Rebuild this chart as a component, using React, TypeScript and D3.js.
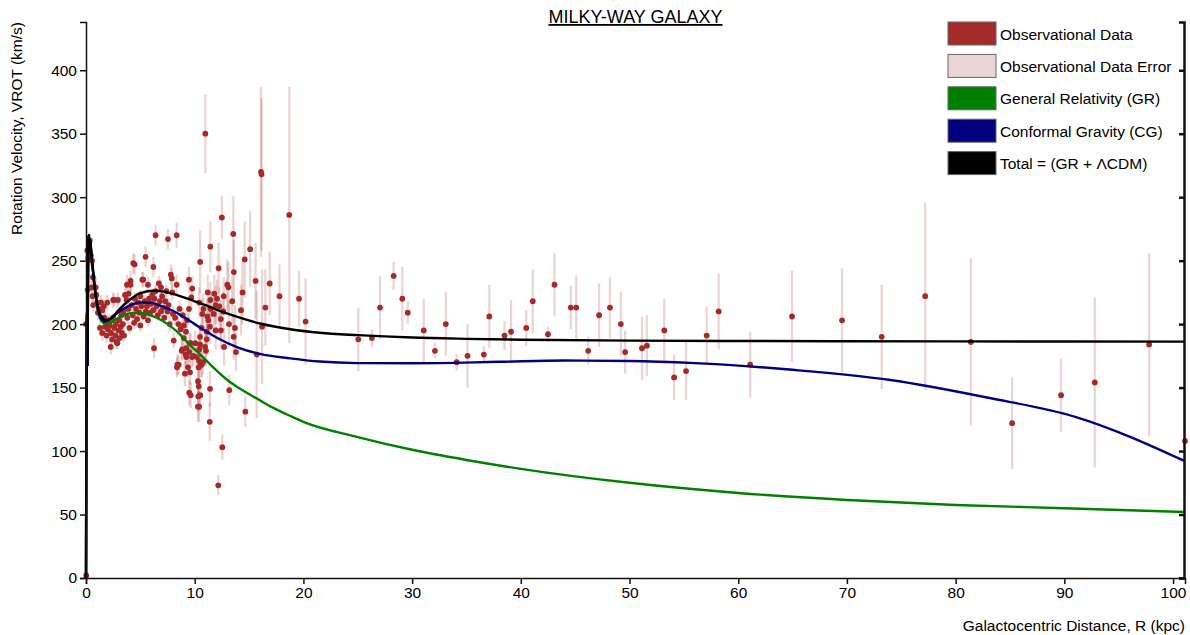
import React, { useCallback, useEffect, useRef } from "react";
import * as d3 from "d3";

// observations: [R (kpc), V (km/s), error (km/s)]
const innerData: number[][] = [
  [0.02, 2, 1], [0.0, 200, 8], [0.12, 258, 10], [0.15, 227, 8], [0.2, 252, 10],
  [0.28, 262, 8], [0.35, 266, 6], [0.45, 254, 8], [0.55, 250, 8], [0.52, 229, 8],
  [0.64, 237, 8], [0.6, 222, 6], [0.67, 215, 6], [0.89, 229, 8], [0.95, 223, 6],
  [1.04, 217, 8], [1.1, 209, 6], [1.2, 212, 6], [1.29, 197, 6], [1.38, 217, 6],
  [1.5, 211, 5], [1.5, 193, 6], [1.63, 214, 6], [1.7, 205, 5], [1.75, 198, 5],
  [1.85, 201, 5], [1.9, 191, 6], [1.96, 217, 6], [2.0, 196, 5], [2.1, 203, 5],
  [2.2, 199, 4], [2.27, 182, 6], [2.3, 193, 5], [2.4, 188, 5], [2.5, 219, 6],
  [2.5, 205, 4], [2.58, 219, 5], [2.6, 197, 5], [2.7, 191, 5], [2.75, 200, 4],
  [2.82, 186, 5], [2.88, 185, 5], [2.94, 219, 6], [3.0, 195, 5], [3.05, 203, 4],
  [3.1, 189, 5], [3.2, 198, 5], [3.25, 207, 4], [3.3, 193, 5], [3.4, 200, 4],
  [3.45, 210, 5], [3.5, 191, 5], [3.59, 223, 6], [3.74, 219, 6], [3.77, 231, 8],
  [3.8, 205, 5], [3.92, 224, 6], [3.9, 212, 5], [4.0, 197, 5], [4.1, 234, 8],
  [4.1, 231, 6], [4.2, 215, 5], [4.3, 207, 4], [4.35, 248, 8], [4.42, 201, 5],
  [4.47, 247, 8], [4.5, 220, 5], [4.6, 212, 4], [4.7, 204, 5], [4.8, 217, 5],
  [4.9, 209, 4], [5.0, 199, 5], [5.0, 222, 5], [5.1, 214, 4], [5.18, 235, 6],
  [5.27, 235, 6], [5.3, 206, 4], [5.4, 218, 5], [5.48, 253, 8], [5.5, 210, 4],
  [5.6, 214, 4], [5.7, 231, 6], [5.7, 203, 5], [5.8, 220, 4], [5.9, 209, 4],
  [6.0, 216, 4], [6.1, 223, 5], [6.2, 245, 8], [6.2, 211, 4], [6.26, 181, 8],
  [6.3, 220, 4], [6.4, 270, 8], [6.4, 226, 5], [6.5, 214, 4], [6.6, 207, 4],
  [6.7, 232, 6], [6.8, 218, 4], [6.9, 229, 6], [6.9, 210, 4], [7.0, 222, 5],
  [7.1, 213, 4], [7.2, 205, 5], [7.3, 218, 5], [7.4, 226, 5], [7.5, 210, 5],
  [7.54, 267, 8], [7.6, 215, 5], [7.7, 200, 6], [7.8, 239, 8], [7.9, 236, 8],
  [7.94, 225, 6], [8.0, 208, 6], [8.07, 187, 6],
];

const middleData: number[][] = [
  [8.2, 205, 6], [8.34, 270, 10], [8.34, 231, 8], [8.37, 166, 8], [8.4, 168, 8],
  [8.5, 200, 6], [8.53, 168, 8], [8.6, 212, 6], [8.7, 196, 6], [8.8, 179, 8],
  [8.86, 180, 8], [8.9, 207, 6], [8.99, 189, 8], [9.0, 199, 6], [9.1, 161, 10],
  [9.17, 176, 8], [9.2, 194, 6], [9.23, 181, 8], [9.23, 174, 8], [9.3, 203, 6],
  [9.38, 166, 8], [9.47, 235, 10], [9.47, 212, 8], [9.5, 178, 8], [9.5, 146, 10],
  [9.54, 185, 8], [9.57, 162, 10], [9.63, 185, 8], [9.63, 144, 10], [9.69, 221, 10],
  [9.75, 174, 8], [9.78, 228, 10], [9.87, 175, 8], [10.05, 185, 10], [10.18, 174, 10],
  [10.3, 155, 10], [10.3, 135, 12], [10.33, 143, 12], [10.37, 151, 10], [10.37, 166, 10],
  [10.4, 171, 10], [10.4, 135, 12], [10.42, 217, 12], [10.42, 180, 10], [10.49, 190, 10],
  [10.49, 184, 10], [10.5, 249, 25], [10.52, 144, 12], [10.55, 168, 10], [10.64, 197, 10],
  [10.64, 168, 10], [10.7, 208, 12], [10.76, 170, 10], [10.8, 212, 12], [10.95, 182, 12],
  [10.98, 350, 31], [11.04, 179, 12], [11.1, 194, 12], [11.1, 188, 12], [11.16, 206, 14],
  [11.2, 225, 14], [11.25, 203, 14], [11.38, 123, 15], [11.4, 198, 14], [11.41, 149, 14],
  [11.44, 261, 20], [11.44, 219, 14], [11.47, 212, 14], [11.74, 208, 15], [11.8, 224, 15],
  [11.93, 215, 15], [11.93, 195, 15], [12.05, 220, 15], [12.17, 73, 8], [12.2, 244, 20],
  [12.26, 214, 15], [12.4, 204, 15], [12.4, 195, 15], [12.5, 284, 17], [12.54, 103, 10],
  [12.63, 210, 15], [12.67, 222, 15], [12.7, 182, 15], [13.0, 231, 20], [13.1, 229, 20],
  [13.15, 200, 18], [13.18, 148, 12], [13.45, 218, 20], [13.55, 271, 30], [13.58, 190, 18],
  [13.6, 241, 25], [13.7, 197, 18], [13.8, 178, 15], [14.26, 211, 20], [14.4, 225, 25],
  [14.6, 251, 30], [14.66, 131, 12], [15.1, 259, 30], [15.6, 234, 30], [15.7, 176, 50],
  [16.1, 320, 67], [16.15, 318, 60], [16.2, 198, 45], [16.5, 213, 30], [16.9, 232, 25],
  [17.8, 222, 25], [18.7, 286, 101], [19.6, 220, 22], [20.2, 202, 34],
];

const outerData: number[][] = [
  [25.05, 188, 25], [26.3, 189, 7], [27.05, 213, 25], [28.3, 238, 11], [29.1, 220, 25],
  [29.6, 209, 9], [31.07, 195, 25], [32.1, 179, 6], [33.1, 200, 25], [34.1, 170, 6.5],
  [35.1, 175, 25], [36.6, 176, 6.5], [37.1, 206, 25], [38.5, 191, 11.5], [39.1, 194, 25],
  [40.5, 197, 14], [41.1, 218, 25], [42.5, 192, 6], [43.1, 231, 25], [44.6, 213, 17],
  [45.1, 213, 25], [46.2, 179, 11], [47.2, 207, 25], [48.2, 213, 24], [49.2, 200, 25],
  [49.6, 178, 17], [51.15, 181, 25], [51.6, 183, 24], [53.2, 195, 25], [54.1, 158, 18],
  [55.2, 163, 23], [57.1, 191, 23], [58.2, 210, 30], [61.1, 168, 26], [64.95, 206, 36],
  [69.55, 203, 41], [73.2, 190, 41], [77.2, 222, 74], [81.4, 186, 66], [85.2, 122, 36],
  [89.7, 144, 29], [92.8, 154, 67], [97.8, 184, 72], [101.1, 108, 42],
];

// model curves: [R (kpc), V (km/s)]
const coreCurve: number[][] = [
  [0, 0], [0.03, 100], [0.07, 195], [0.1, 210], [0.14, 168], [0.18, 230],
  [0.23, 268], [0.28, 270], [0.33, 258], [0.38, 266], [0.43, 262], [0.5, 255],
  [0.6, 246], [0.75, 233], [0.9, 222],
];

const grCurve: number[][] = [
  [1.1, 211], [1.35, 203.5], [1.75, 200.5], [2.2, 201], [3, 205], [4, 208.5],
  [4.7, 209], [5.5, 208], [6.5, 205], [7.5, 200], [8.65, 192], [9.5, 184],
  [10.5, 176], [11.7, 166], [13, 156], [14, 150], [16, 140], [17, 135],
  [18.8, 127.6], [20, 123], [25, 111], [30, 101], [35, 93], [40, 86], [50, 75],
  [60, 67], [70, 61.5], [80, 57.5], [90, 55], [101.1, 52],
];

const cgCurve: number[][] = [
  [1.1, 212], [1.35, 205], [1.75, 202], [2.2, 204], [3, 209.5], [4, 214.5],
  [5, 217], [6, 216.8], [7, 214], [8, 210.5], [9, 205.5], [10, 200], [11, 194.5],
  [12, 189.5], [14, 181.5], [16, 176.5], [18.8, 173], [21.5, 170.5], [25, 169.3],
  [30, 169.2], [38, 170.3], [44, 171.3], [50, 171], [56, 169.3], [65, 164],
  [74, 156], [83, 142], [91, 127], [101.1, 92],
];

const totalCurve: number[][] = [
  [1.1, 213], [1.35, 207], [1.9, 203], [2.5, 206], [3, 211], [4, 219],
  [5, 224.5], [6.3, 226.3], [7, 225.8], [8, 223.8], [9, 221], [10, 218],
  [11, 215], [12, 211.5], [14, 205.5], [16, 200.5], [18.8, 196], [21.5, 193.2],
  [25, 191.3], [30, 189.4], [35, 188.4], [40, 187.7], [50, 187], [60, 186.7],
  [80, 186.4], [101.1, 186.2],
];

const xTicks = [0, 10, 20, 30, 40, 50, 60, 70, 80, 90, 100];
const yTicks = [0, 50, 100, 150, 200, 250, 300, 350, 400];

const legendItems = [
  { label: "Observational Data", fill: "#a52a2a" },
  { label: "Observational Data Error", fill: "#ecd4d4" },
  { label: "General Relativity (GR)", fill: "#008000" },
  { label: "Conformal Gravity (CG)", fill: "#000080" },
  { label: "Total = (GR + \u039BCDM)", fill: "#000000" },
];

const FONT = "Arial, 'Liberation Sans', sans-serif";

function RotationCurve() {
  const ref = useRef<SVGSVGElement>(null);
  const width = 1190;
  const height = 635;
  const margin = { top: 22, right: 5, bottom: 57, left: 86 };

  const drawChart = useCallback(() => {
    const svg = d3.select(ref.current);
    svg.selectAll("*").remove();

    const x = d3
      .scaleLinear()
      .domain([0, 101.1])
      .range([margin.left, width - margin.right]);
    const y = d3
      .scaleLinear()
      .domain([0, 438])
      .range([height - margin.bottom, margin.top]);

    const points = [...innerData, ...middleData, ...outerData];

    // error bars
    svg
      .append("g")
      .selectAll("line")
      .data(points)
      .enter()
      .append("line")
      .attr("x1", (d) => x(d[0]))
      .attr("x2", (d) => x(d[0]))
      .attr("y1", (d) => y(Math.max(0, d[1] - d[2])))
      .attr("y2", (d) => y(d[1] + d[2]))
      .attr("stroke", "#a52a2a")
      .attr("stroke-opacity", 0.2)
      .attr("stroke-width", 2.3);

    // data points
    svg
      .append("g")
      .selectAll("circle")
      .data(points)
      .enter()
      .append("circle")
      .attr("cx", (d) => x(d[0]))
      .attr("cy", (d) => y(d[1]))
      .attr("r", 2.9)
      .attr("fill", "#a52a2a");

    const line = d3
      .line<number[]>()
      .x((d) => x(d[0]))
      .y((d) => y(d[1]))
      .curve(d3.curveMonotoneX);

    const curves = [
      { data: grCurve, color: "#008000" },
      { data: cgCurve, color: "#000080" },
      { data: totalCurve, color: "#000000" },
    ];
    curves.forEach((c) => {
      svg
        .append("path")
        .attr("d", line([...coreCurve, ...c.data]))
        .attr("fill", "none")
        .attr("stroke", c.color)
        .attr("stroke-width", 2.4);
    });

    // axes
    const xAxis = svg
      .append("g")
      .attr("transform", `translate(0, ${height - margin.bottom})`)
      .call(d3.axisBottom(x).tickValues(xTicks).tickFormat(d3.format("d")));
    const yAxis = svg
      .append("g")
      .attr("transform", `translate(${margin.left}, 0)`)
      .call(d3.axisLeft(y).tickValues(yTicks).tickFormat(d3.format("d")));
    // right-hand frame axis, ticks pointing inwards, no labels
    const rAxis = svg
      .append("g")
      .attr("transform", `translate(${width - margin.right - 1}, 0)`)
      .call(
        d3
          .axisLeft(y)
          .tickValues(yTicks)
          .tickSize(5)
          .tickFormat(() => "")
      );
    [xAxis, yAxis].forEach((g) => {
      g.selectAll("text").attr("font-size", 15.5).attr("font-family", FONT);
      g.selectAll("path, line").attr("stroke", "#111").attr("stroke-width", 1.5);
    });
    rAxis.selectAll("path, line").attr("stroke", "#111").attr("stroke-width", 2.5);

    // titles
    svg
      .append("text")
      .attr("x", (margin.left + width - margin.right) / 2)
      .attr("y", 23)
      .attr("text-anchor", "middle")
      .attr("font-family", FONT)
      .attr("font-size", 18)
      .attr("text-decoration", "underline")
      .text("MILKY-WAY GALAXY");

    svg
      .append("text")
      .attr("x", width - margin.right)
      .attr("y", 631)
      .attr("text-anchor", "end")
      .attr("font-family", FONT)
      .attr("font-size", 15.5)
      .text("Galactocentric Distance, R (kpc)");

    svg
      .append("text")
      .attr("transform", `translate(22, ${margin.top}) rotate(-90)`)
      .attr("text-anchor", "end")
      .attr("font-family", FONT)
      .attr("font-size", 15.5)
      .text("Rotation Velocity, VROT (km/s)");

    // legend
    const legend = svg
      .selectAll(".legend")
      .data(legendItems)
      .enter()
      .append("g")
      .attr("transform", (d, i) => `translate(948, ${22 + i * 32.4})`);
    legend
      .append("rect")
      .attr("width", 48)
      .attr("height", 23)
      .attr("fill", (d) => d.fill)
      .attr("stroke", "#666")
      .attr("stroke-width", 1);
    legend
      .append("text")
      .attr("x", 52)
      .attr("y", 17.5)
      .attr("font-family", FONT)
      .attr("font-size", 15.5)
      .text((d) => d.label);
  }, []);

  useEffect(() => {
    drawChart();
  }, [drawChart]);

  return (
    <svg
      ref={ref}
      width={width}
      height={height}
      style={{ position: "absolute", left: 0, top: 0, background: "#fff" }}
    />
  );
}

export default function App() {
  return <RotationCurve />;
}
